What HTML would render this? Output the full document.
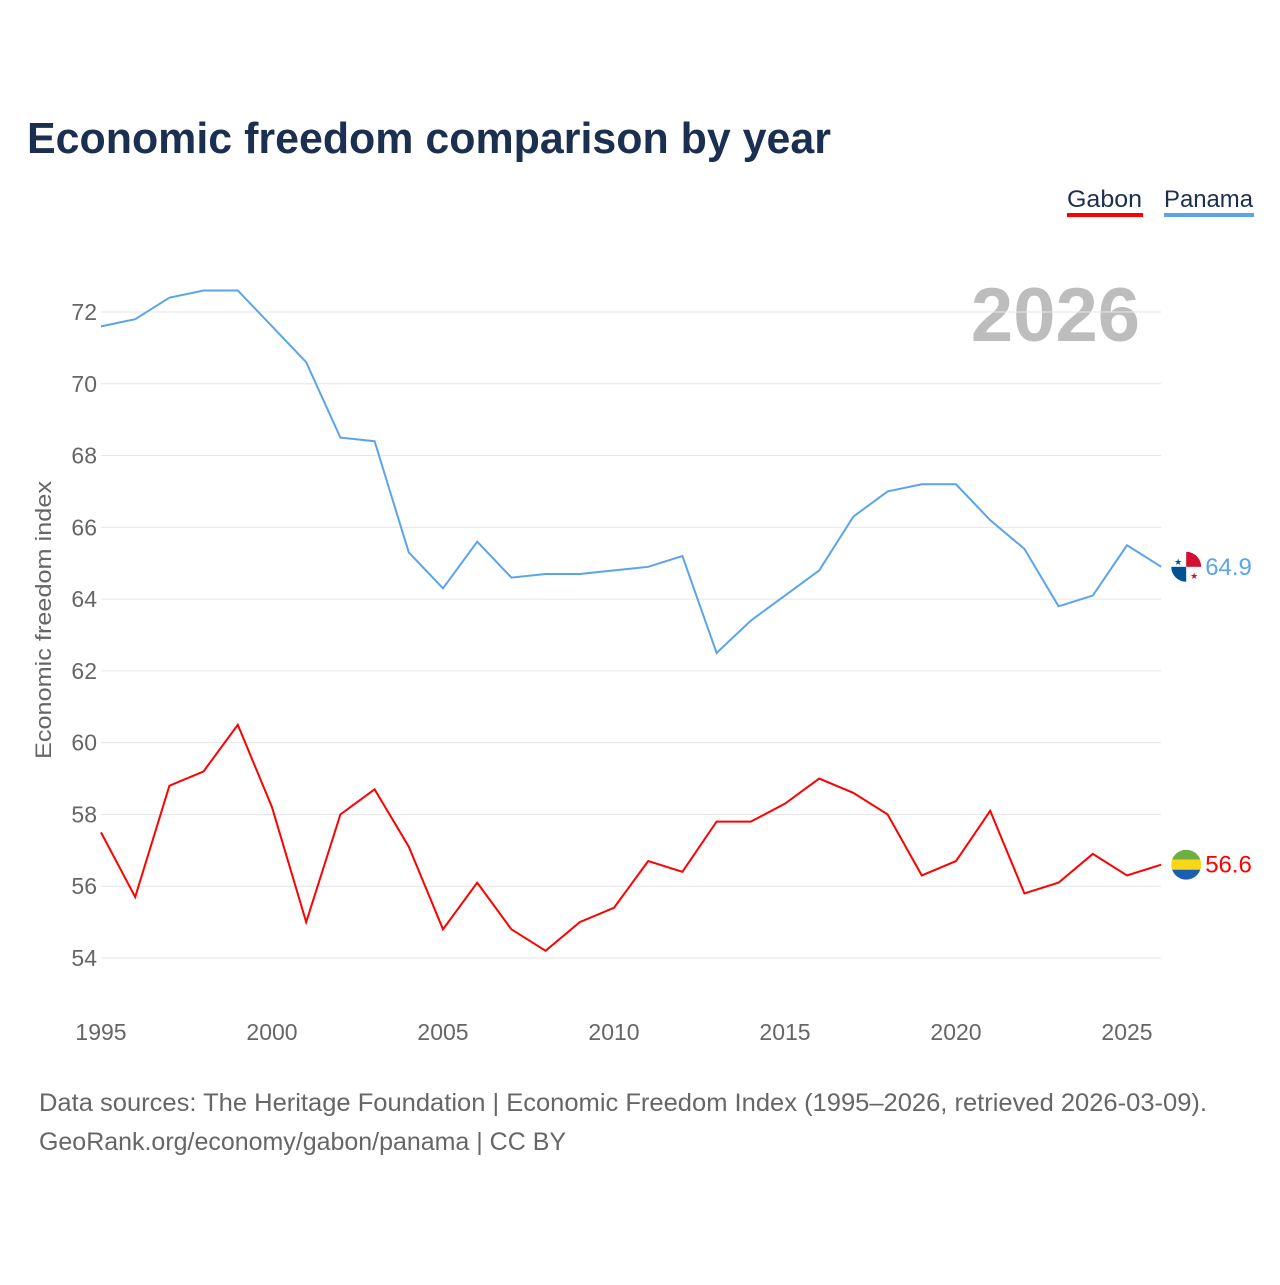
<!DOCTYPE html>
<html><head><meta charset="utf-8"><style>
body{margin:0;background:#fff;font-family:"Liberation Sans",sans-serif}
#wrap{position:relative;width:1280px;height:1280px}
</style></head><body>
<div id="wrap">
<svg id="chart" width="1280" height="1280" font-family="Liberation Sans, sans-serif">
<text x="27" y="153" font-size="44" font-weight="bold" fill="#1b2f50" textLength="804" lengthAdjust="spacingAndGlyphs">Economic freedom comparison by year</text>
<g><text x="1067" y="207" font-size="24" fill="#1b2f50" textLength="75" lengthAdjust="spacingAndGlyphs">Gabon</text><rect x="1067" y="213" width="76" height="4" fill="#ff0000"/></g>
<g><text x="1164" y="207" font-size="24" fill="#1b2f50" textLength="89" lengthAdjust="spacingAndGlyphs">Panama</text><rect x="1164" y="213" width="90" height="4" fill="#5ba4ec"/></g>
<text x="1140" y="341" font-size="76" font-weight="bold" fill="#bdbdbd" text-anchor="end">2026</text>
<text transform="translate(51,620) rotate(-90)" font-size="22" fill="#666" text-anchor="middle" textLength="278" lengthAdjust="spacingAndGlyphs">Economic freedom index</text>
<g id="grid"></g><g id="yt"></g><g id="xt"></g><g id="lines"></g><g id="ends"></g>
<text x="39" y="1111" font-size="25" fill="#666" textLength="1168" lengthAdjust="spacingAndGlyphs">Data sources: The Heritage Foundation | Economic Freedom Index (1995–2026, retrieved 2026-03-09).</text>
<text x="39" y="1150" font-size="25" fill="#666" textLength="527" lengthAdjust="spacingAndGlyphs">GeoRank.org/economy/gabon/panama | CC BY</text>
</svg></div>
<script>
const years=[1995,1996,1997,1998,1999,2000,2001,2002,2003,2004,2005,2006,2007,2008,2009,2010,2011,2012,2013,2014,2015,2016,2017,2018,2019,2020,2021,2022,2023,2024,2025,2026];
const panama=[71.6,71.8,72.4,72.6,72.6,71.6,70.6,68.5,68.4,65.3,64.3,65.6,64.6,64.7,64.7,64.8,64.9,65.2,62.5,63.4,64.1,64.8,66.3,67.0,67.2,67.2,66.2,65.4,63.8,64.1,65.5,64.9];
const gabon=[57.5,55.7,58.8,59.2,60.5,58.2,55.0,58.0,58.7,57.1,54.8,56.1,54.8,54.2,55.0,55.4,56.7,56.4,57.8,57.8,58.3,59.0,58.6,58.0,56.3,56.7,58.1,55.8,56.1,56.9,56.3,56.6];
const yTicks=[54,56,58,60,62,64,66,68,70,72];
const xTicks=[1995,2000,2005,2010,2015,2020,2025];
const NS="http://www.w3.org/2000/svg";
const X=y=>101+(y-1995)*(1127-101)/30;
const Y=v=>958-(v-54)*(958-312)/18;
function mk(t,a,p){const e=document.createElementNS(NS,t);for(const k in a)e.setAttribute(k,a[k]);document.getElementById(p).appendChild(e);return e;}
yTicks.forEach(v=>{
 const l=mk('line',{x1:101,x2:1161,y1:Y(v),y2:Y(v),stroke:'#e6e6e6','stroke-width':1},'grid');
 
 
 const t=mk('text',{x:97,y:Y(v)+8,'font-size':23,fill:'#666','text-anchor':'end'},'yt');t.textContent=v;
 
 
});
xTicks.forEach(v=>{
 const t=mk('text',{x:X(v),y:1040,'font-size':23,fill:'#666','text-anchor':'middle'},'xt');t.textContent=v;
 
 
});
function line(d,c,n){
 const p=mk('polyline',{points:d.map((v,i)=>X(years[i])+','+Y(v)).join(' '),fill:'none',stroke:c,'stroke-width':2},'lines');
 
 
 const lx=X(years[years.length-1]),ly=Y(d[d.length-1]);
 const t=mk('text',{x:lx+44,y:ly+8,'font-size':24,fill:c},'ends');t.textContent=d[d.length-1].toFixed(1);
 
 
 return [lx+25,ly];
}
const [px,py]=line(panama,'#5ba4ec','panama');
const [gx,gy]=line(gabon,'#ff0000','gabon');
let g=mk('g',{},'ends');


g.innerHTML=`<clipPath id="cp"><circle cx="${px}" cy="${py}" r="15"/></clipPath><g clip-path="url(#cp)"><rect x="${px-15}" y="${py-15}" width="30" height="30" fill="#fff"/><rect x="${px}" y="${py-15}" width="15" height="15" fill="#d21034"/><rect x="${px-15}" y="${py}" width="15" height="15" fill="#005293"/></g><text x="${px-8}" y="${py-2}" font-size="9" fill="#005293" text-anchor="middle">★</text><text x="${px+8}" y="${py+12}" font-size="9" fill="#d21034" text-anchor="middle">★</text>`;
g=mk('g',{},'ends');


g.innerHTML=`<clipPath id="cg"><circle cx="${gx}" cy="${gy}" r="15"/></clipPath><g clip-path="url(#cg)"><rect x="${gx-15}" y="${gy-15}" width="30" height="10" fill="#6fae44"/><rect x="${gx-15}" y="${gy-5}" width="30" height="10" fill="#f9d616"/><rect x="${gx-15}" y="${gy+5}" width="30" height="10" fill="#1a5fb4"/></g>`;
</script>
</body></html>
